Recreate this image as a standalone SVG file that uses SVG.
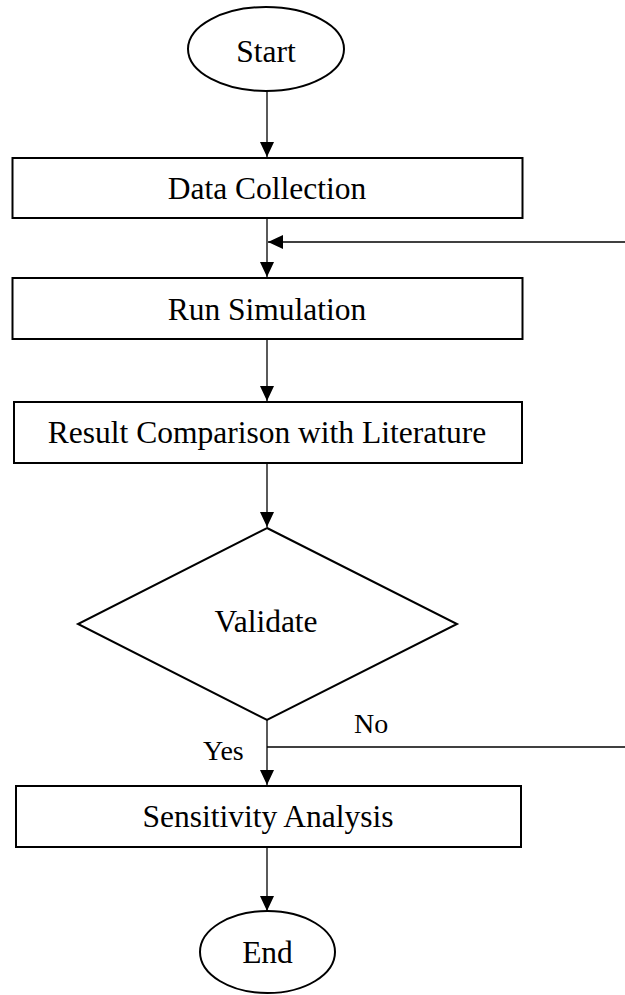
<svg xmlns="http://www.w3.org/2000/svg" width="625" height="995" viewBox="0 0 625 995">
<style>
.shape{fill:#fff;stroke:#000;stroke-width:2}
.lbl{font-family:"Liberation Serif","Times New Roman",serif;font-size:31.5px;fill:#000;text-anchor:middle}
.sm{font-family:"Liberation Serif","Times New Roman",serif;font-size:28px;fill:#000}
.conn{stroke:#000;stroke-width:1.3;fill:none}
</style>
<defs>
<marker id="ah" markerWidth="15" markerHeight="14" refX="15" refY="7" orient="auto" markerUnits="userSpaceOnUse">
<path d="M0,0 L15,7 L0,14 Z" fill="#000"/>
</marker>
</defs>
<rect width="625" height="995" fill="#fff"/>
<g id="connectors">
<line class="conn" x1="267" y1="91" x2="267" y2="157" marker-end="url(#ah)"/>
<line class="conn" x1="267" y1="218" x2="267" y2="277" marker-end="url(#ah)"/>
<line class="conn" x1="625" y1="242" x2="268" y2="242" stroke="#444" marker-end="url(#ah)"/>
<line class="conn" x1="267" y1="339" x2="267" y2="401" marker-end="url(#ah)"/>
<line class="conn" x1="267" y1="463" x2="267" y2="527" marker-end="url(#ah)"/>
<line class="conn" x1="267" y1="720" x2="267" y2="785" marker-end="url(#ah)"/>
<line class="conn" x1="267" y1="747" x2="625" y2="747"/>
<line class="conn" x1="267" y1="847" x2="267" y2="911" marker-end="url(#ah)"/>
<text class="sm" x="354" y="733">No</text>
<text class="sm" x="203" y="760">Yes</text>
</g>
<g id="start">
<ellipse class="shape" cx="266" cy="49" rx="78" ry="42"/>
<text class="lbl" x="266" y="62">Start</text>
</g>
<g id="data-collection">
<rect class="shape" x="12.5" y="158" width="510" height="60"/>
<text class="lbl" x="267" y="199">Data Collection</text>
</g>
<g id="run-simulation">
<rect class="shape" x="12.5" y="278" width="510" height="61"/>
<text class="lbl" x="267" y="320">Run Simulation</text>
</g>
<g id="result-comparison">
<rect class="shape" x="14" y="402" width="508" height="61"/>
<text class="lbl" x="267" y="443">Result Comparison with Literature</text>
</g>
<g id="validate">
<polygon class="shape" points="267,528 457,624 267,720 78,624"/>
<text class="lbl" x="266" y="632">Validate</text>
</g>
<g id="sensitivity-analysis">
<rect class="shape" x="16" y="786" width="505" height="61"/>
<text class="lbl" x="268" y="827">Sensitivity Analysis</text>
</g>
<g id="end">
<ellipse class="shape" cx="267.5" cy="952" rx="67.5" ry="41"/>
<text class="lbl" x="267.5" y="963">End</text>
</g>
</svg>
